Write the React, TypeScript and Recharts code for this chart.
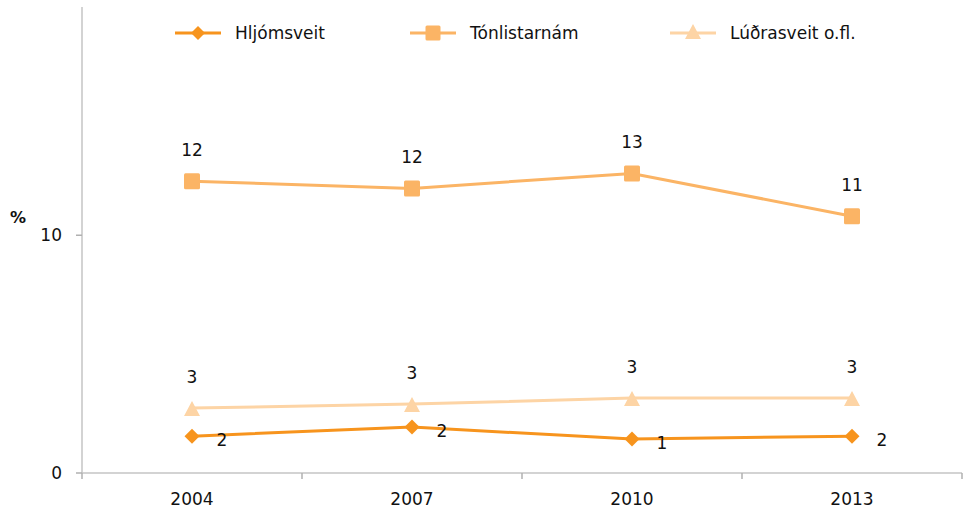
import React from 'react';
import { LineChart, Line, XAxis, YAxis, Legend, LabelList, Label } from 'recharts';

const years = ['2004', '2007', '2010', '2013'];
const hljomsveit = [1.55, 1.93, 1.43, 1.55];
const tonlistarnam = [12.27, 11.97, 12.6, 10.8];
const ludrasveit = [2.73, 2.9, 3.15, 3.15];
const yTicks = [0, 10];
const boundaryTicks = [0, 1, 2, 3, 4];
const labelTicks = [0.5, 1.5, 2.5, 3.5];

const seriesNames = ['Hljómsveit', 'Tónlistarnám', 'Lúðrasveit o.fl.'];
const colors = ['#F7941D', '#FBB465', '#FDD4A5'];
const legendItemWidths = [235, 260, 240];

const data = years.map((year, i) => ({
  pos: i + 0.5,
  year,
  h: hljomsveit[i],
  t: tonlistarnam[i],
  l: ludrasveit[i],
}));

const FONT = '"DejaVu Sans", sans-serif';

const Diamond = (props: any) => {
  const { cx, cy, fill, size = 7.5 } = props;
  if (cx == null || cy == null) return null;
  return <path d={`M${cx},${cy - size} L${cx + size},${cy} L${cx},${cy + size} L${cx - size},${cy} Z`} fill={fill} />;
};
const Square = (props: any) => {
  const { cx, cy, fill, size = 8 } = props;
  if (cx == null || cy == null) return null;
  return <rect x={cx - size} y={cy - size} width={size * 2} height={size * 2} rx={1.5} fill={fill} />;
};
const Triangle = (props: any) => {
  const { cx, cy, fill } = props;
  if (cx == null || cy == null) return null;
  return <path d={`M${cx},${cy - 7} L${cx + 8},${cy + 8} L${cx - 8},${cy + 8} Z`} fill={fill} />;
};

const markers = [Diamond, Square, Triangle];

const aboveLabel = (props: any) => {
  const { x, y, value } = props;
  return (
    <text x={x} y={y - 31} textAnchor="middle" dominantBaseline="central" fontFamily={FONT} fontSize={17} fill="#111">
      {Math.round(value)}
    </text>
  );
};
const rightLabel = (props: any) => {
  const { x, y, value } = props;
  return (
    <text x={x + 30} y={y + 4} textAnchor="middle" dominantBaseline="central" fontFamily={FONT} fontSize={17} fill="#111">
      {Math.round(value)}
    </text>
  );
};

const LegendContent = () => (
  <div style={{ display: 'flex', paddingLeft: 175, fontFamily: FONT, fontSize: 17, color: '#111', alignItems: 'center' }}>
    {seriesNames.map((name, i) => {
      const M = markers[i];
      return (
        <div key={name} style={{ display: 'flex', alignItems: 'center', width: legendItemWidths[i] }}>
          <svg width={46} height={20} style={{ display: 'block' }}>
            <line x1={0} y1={10} x2={46} y2={10} stroke={colors[i]} strokeWidth={3} />
            <M cx={23} cy={i === 2 ? 8 : 10} fill={colors[i]} size={i === 0 ? 7 : 7.5} />
          </svg>
          <span style={{ marginLeft: 14, whiteSpace: 'nowrap' }}>{name}</span>
        </div>
      );
    })}
  </div>
);

export default function App() {
  return (
    <div style={{ position: 'absolute', left: 0, top: 0, width: 964, height: 514, background: '#fff' }}>
      <LineChart width={964} height={514} data={data} margin={{ top: 7, right: 2, left: 0, bottom: 0 }}>
        <XAxis
          xAxisId="b"
          type="number"
          dataKey="pos"
          domain={[0, 4]}
          ticks={boundaryTicks}
          tickFormatter={() => ''}
          height={1}
          axisLine={{ stroke: '#c4c4c4', strokeWidth: 1.5 }}
          tickLine={{ stroke: '#b0b0b0', strokeWidth: 1.5 }}
          tickSize={6}
        />
        <XAxis
          xAxisId="lab"
          type="number"
          dataKey="pos"
          domain={[0, 4]}
          ticks={labelTicks}
          tickFormatter={(v: number) => years[Math.floor(v)]}
          height={40}
          axisLine={false}
          tickLine={false}
          tickMargin={13}
          tick={{ fontFamily: FONT, fontSize: 17, fill: '#111' }}
        />
        <YAxis
          type="number"
          domain={[0, 19.6]}
          ticks={yTicks}
          width={82}
          axisLine={{ stroke: '#c4c4c4', strokeWidth: 1.5 }}
          tickLine={{ stroke: '#b0b0b0', strokeWidth: 1.5 }}
          tickSize={6}
          tickMargin={14}
          tick={{ fontFamily: FONT, fontSize: 17, fill: '#111' }}
          allowDataOverflow
        >
          <Label value="%" position="insideLeft" offset={10} dy={-23} fontFamily={FONT} fontSize={16} fontWeight="bold" fill="#111" />
        </YAxis>
        <Legend
          layout="horizontal"
          verticalAlign="middle"
          align="center"
          content={LegendContent}
          wrapperStyle={{ left: 0, top: 23, width: 964, height: 22 }}
        />
        <Line xAxisId="b" dataKey="l" name={seriesNames[2]} stroke={colors[2]} strokeWidth={3} dot={<Triangle fill={colors[2]} />} activeDot={false} isAnimationActive={false}>
          <LabelList dataKey="l" content={aboveLabel} />
        </Line>
        <Line xAxisId="b" dataKey="h" name={seriesNames[0]} stroke={colors[0]} strokeWidth={3} dot={<Diamond fill={colors[0]} />} activeDot={false} isAnimationActive={false}>
          <LabelList dataKey="h" content={rightLabel} />
        </Line>
        <Line xAxisId="b" dataKey="t" name={seriesNames[1]} stroke={colors[1]} strokeWidth={3} dot={<Square fill={colors[1]} />} activeDot={false} isAnimationActive={false}>
          <LabelList dataKey="t" content={aboveLabel} />
        </Line>
      </LineChart>
    </div>
  );
}
